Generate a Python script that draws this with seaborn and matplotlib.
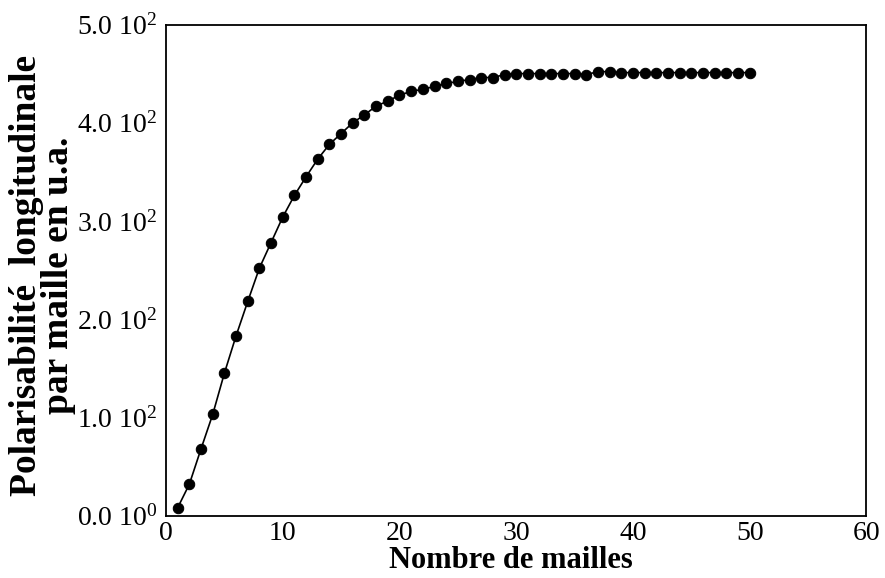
import matplotlib
matplotlib.use("Agg")
import matplotlib.pyplot as plt
import seaborn as sns
import pandas as pd

# Longitudinal polarizability per cell versus number of cells
n_cells = list(range(1, 51))
polarizability = [
    8, 32, 68, 103, 145, 183, 218, 252, 278, 304,
    326, 345, 363, 378, 389, 400, 408, 417, 422, 428,
    432, 434, 437, 440, 442, 444, 446, 446, 449, 450,
    450, 450, 450, 450, 450, 449, 452, 452, 451, 451,
    451, 451, 451, 451, 451, 451, 451, 451, 451, 451,
]
x_ticks = [0, 10, 20, 30, 40, 50, 60]
y_ticks = [0, 100, 200, 300, 400, 500]
y_tick_labels = [r"0.0 10$^0$", r"1.0 10$^2$", r"2.0 10$^2$",
                 r"3.0 10$^2$", r"4.0 10$^2$", r"5.0 10$^2$"]

df = pd.DataFrame({"mailles": n_cells, "polar": polarizability})

sns.set_style("white")
plt.rcParams["font.family"] = ["Liberation Serif", "DejaVu Serif"]
plt.rcParams["mathtext.fontset"] = "custom"
plt.rcParams["mathtext.rm"] = "Liberation Serif"
plt.rcParams["mathtext.it"] = "Liberation Serif:italic"
plt.rcParams["mathtext.bf"] = "Liberation Serif:bold"
plt.rcParams["text.color"] = "black"
plt.rcParams["axes.labelcolor"] = "black"

fig = plt.figure(figsize=(8.85, 5.78), dpi=100)
ax = fig.add_axes([0.1876, 0.108, 0.7914, 0.8496])

sns.lineplot(data=df, x="mailles", y="polar", ax=ax, color="black",
             linewidth=1.2, marker="o", markersize=7.5,
             markeredgecolor="black", markerfacecolor="black")

ax.set_xlim(0, 60)
ax.set_ylim(0, 500)
ax.set_xticks(x_ticks)
ax.set_xticklabels([str(t) for t in x_ticks])
ax.set_yticks(y_ticks)
ax.set_yticklabels(y_tick_labels)
ax.tick_params(axis="both", direction="out", length=3, width=1,
               labelsize=20, colors="black", pad=3)
ax.tick_params(axis="x", pad=1)

for side in ["left", "right", "top", "bottom"]:
    ax.spines[side].set_visible(True)
    ax.spines[side].set_color("black")
    ax.spines[side].set_linewidth(1.3)

ax.set_xlabel("Nombre de mailles", fontsize=22, fontweight="bold")
ax.xaxis.set_label_coords(0.492, -0.061)
ax.set_ylabel("Polarisabilité  longitudinale\npar maille en u.a.",
              fontsize=27, fontweight="bold", linespacing=0.92)
ax.yaxis.set_label_coords(-0.128, 0.49)

fig.savefig("out.png", dpi=100)
